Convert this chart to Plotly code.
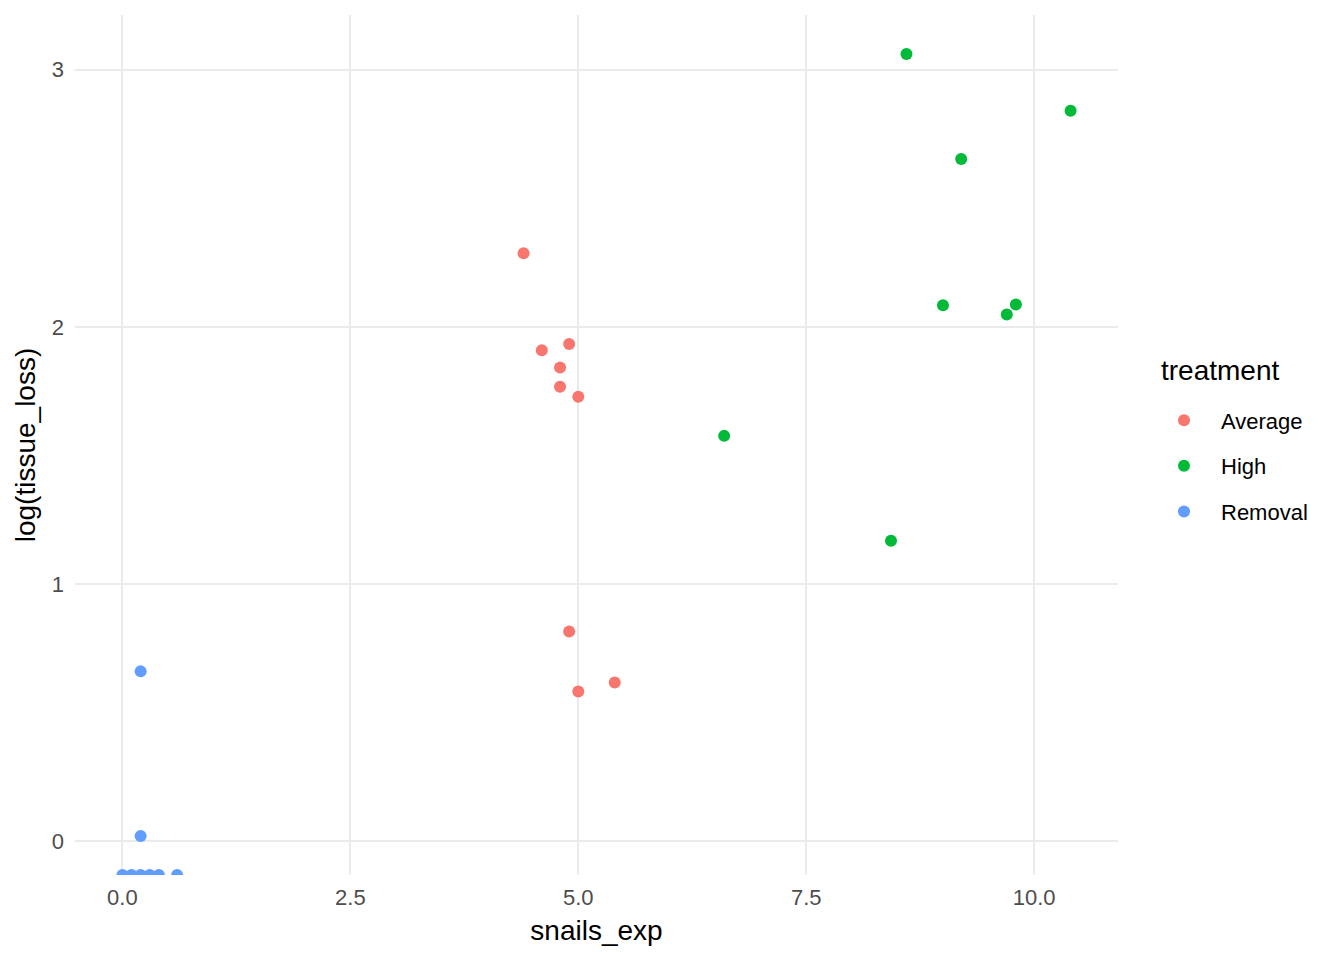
import numpy as np
import plotly.graph_objects as go

# snails_exp / log(tissue_loss) per treatment; -inf is log(0), drawn at the panel floor like ggplot
average_x = [4.4, 4.6, 4.9, 4.8, 4.8, 5.0, 4.9, 5.0, 5.4]
average_y = [2.286, 1.909, 1.933, 1.842, 1.767, 1.728, 0.815, 0.582, 0.617]

high_x = [8.6, 10.4, 9.2, 9.0, 9.8, 9.7, 6.6, 8.43]
high_y = [3.061, 2.841, 2.653, 2.084, 2.087, 2.048, 1.576, 1.168]

removal_x = [0.2, 0.2, 0.0, 0.1, 0.2, 0.3, 0.4, 0.6]
removal_y = [0.66, 0.02, -np.inf, -np.inf, -np.inf, -np.inf, -np.inf, -np.inf]

series = [
    ("Average", average_x, average_y, "#F8766D"),
    ("High", high_x, high_y, "#00BA38"),
    ("Removal", removal_x, removal_y, "#619CFF"),
]

# ggplot-style 5% expansion of the finite data range
all_x = np.array(average_x + high_x + removal_x)
all_y = np.array(average_y + high_y + removal_y, dtype=float)
finite = all_y[np.isfinite(all_y)]
xpad = 0.05 * (all_x.max() - all_x.min())
ypad = 0.05 * (finite.max() - finite.min())
xrange = [all_x.min() - xpad, all_x.max() + xpad]
yrange = [finite.min() - ypad, finite.max() + ypad]

fig = go.Figure()
for name, xs, ys, col in series:
    ys = [yrange[0] if np.isneginf(v) else v for v in ys]
    fig.add_trace(go.Scatter(
        x=xs, y=ys, mode="markers", name=name, legendgroup=name,
        marker=dict(color=col, size=12), cliponaxis=True,
    ))

FONT = "Liberation Sans, Arial, sans-serif"
grid = "#EBEBEB"
tick_font = dict(family=FONT, size=22, color="#4D4D4D")
title_font = dict(family=FONT, size=28, color="#000000")

fig.update_layout(
    width=1344, height=960,
    margin=dict(l=67, r=234, t=7, b=93),  # page body adds 8px on top/left
    plot_bgcolor="white", paper_bgcolor="white",
    font=dict(family=FONT),
    xaxis=dict(
        title=dict(text="snails_exp", font=title_font, standoff=11),
        range=xrange, tickvals=[0, 2.5, 5, 7.5, 10],
        ticktext=["0.0", "2.5", "5.0", "7.5", "10.0"],
        tickfont=tick_font, ticklabelstandoff=7,
        showgrid=True, gridcolor=grid, gridwidth=2,
        zeroline=False, showline=False, ticks="",
    ),
    yaxis=dict(
        title=dict(text="log(tissue_loss)", font=title_font, standoff=7),
        range=yrange, tickvals=[0, 1, 2, 3],
        tickfont=tick_font, ticklabelstandoff=10,
        showgrid=True, gridcolor=grid, gridwidth=2,
        zeroline=False, showline=False, ticks="",
    ),
    legend=dict(
        font=dict(family=FONT, size=22, color="#000000"),
        x=1.0278, xanchor="left", y=0.553, yanchor="top",
        tracegroupgap=14, itemsizing="constant", itemwidth=64,
    ),
    annotations=[dict(
        text="treatment", xref="paper", yref="paper", x=1.039, y=0.587,
        xanchor="left", yanchor="middle", showarrow=False,
        font=dict(family=FONT, size=28, color="#000000"),
    )],
)

fig.write_html("out.html")
